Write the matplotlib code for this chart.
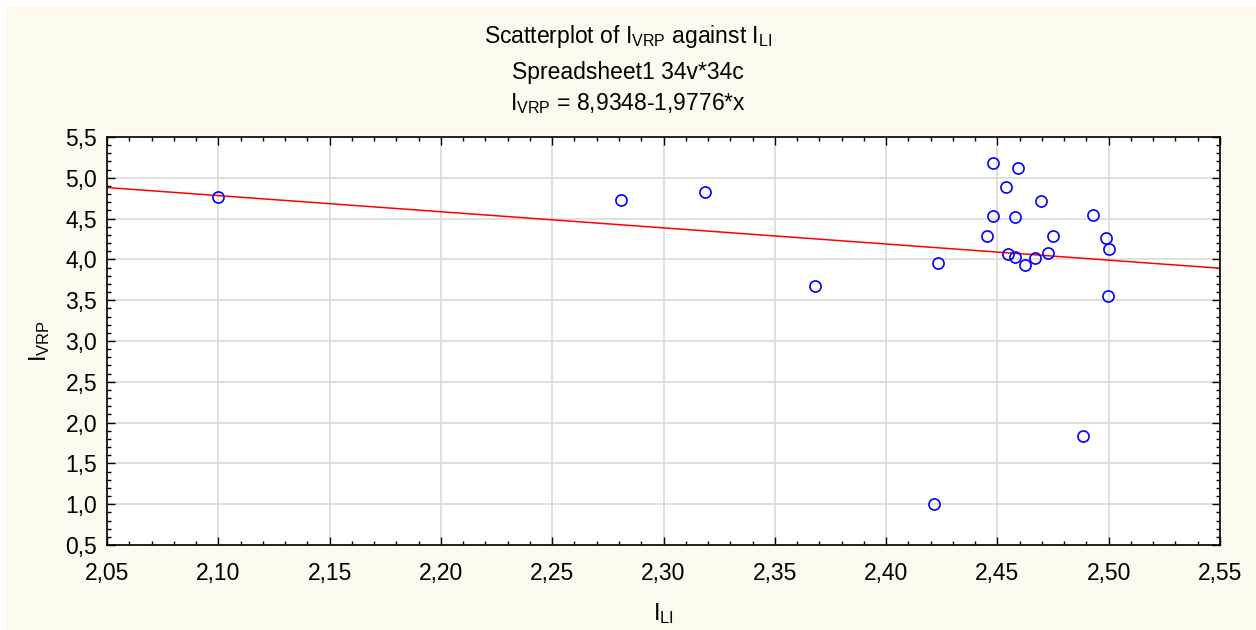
import numpy as np
import matplotlib
matplotlib.use("Agg")
import matplotlib.pyplot as plt
from matplotlib.ticker import MultipleLocator, FuncFormatter
from matplotlib.patches import Rectangle

## Fonts
plt.rcParams['font.family'] = ['Liberation Sans', 'DejaVu Sans']
plt.rcParams['mathtext.fontset'] = 'custom'
plt.rcParams['mathtext.rm'] = 'Liberation Sans'
plt.rcParams['mathtext.it'] = 'Liberation Sans'

## Data
i_li = [2.100, 2.281, 2.3186, 2.368, 2.4233, 2.4216, 2.4885, 2.4998,
        2.4479, 2.4593, 2.4539, 2.4696, 2.4479, 2.4579, 2.4928, 2.4452,
        2.4750, 2.4989, 2.5001, 2.4546, 2.4578, 2.4669, 2.4729, 2.4625]
i_vrp = [4.765, 4.728, 4.826, 3.674, 3.956, 1.002, 1.836, 3.552,
         5.185, 5.124, 4.891, 4.719, 4.532, 4.516, 4.548, 4.283,
         4.283, 4.266, 4.127, 4.066, 4.033, 4.017, 4.082, 3.928]

# regression line I_VRP = a + b*x
intercept = 8.9348
slope = -1.9776

x_lim = (2.05, 2.55)
y_lim = (0.5, 5.5)

## Figure
fig = plt.figure(figsize=(12.56, 6.3), dpi=100, facecolor="white")
fig.patches.append(Rectangle((5/1256, 0), 1, 1 - 6/630, transform=fig.transFigure,
                             facecolor="#fef9ee", edgecolor="none", zorder=-10))
ax = fig.add_axes([107/1256, 1 - 545/630, (1220-107)/1256, (545-137)/630])
ax.set_facecolor("white")

x_line = np.array(x_lim)
ax.plot(x_line, intercept + slope*x_line, color="red", lw=1.1, zorder=2)
ax.plot(i_li, i_vrp, "o", mfc="none", mec="blue", mew=1.2, ms=8, zorder=3)

ax.set_xlim(*x_lim); ax.set_ylim(*y_lim)
ax.xaxis.set_major_locator(MultipleLocator(0.05))
ax.xaxis.set_minor_locator(MultipleLocator(0.01))
ax.yaxis.set_major_locator(MultipleLocator(0.5))
ax.yaxis.set_minor_locator(MultipleLocator(0.1))
ax.xaxis.set_major_formatter(FuncFormatter(lambda v, p: f"{v:.2f}".replace(".", ",")))
ax.yaxis.set_major_formatter(FuncFormatter(lambda v, p: f"{v:.1f}".replace(".", ",")))
ax.tick_params(which="both", direction="in", top=True, right=True, labelsize=16.5, color="black")
ax.tick_params(which="major", length=6, width=1)
ax.tick_params(which="minor", length=3, width=1)
ax.tick_params(axis="x", pad=12)
ax.tick_params(axis="y", pad=7)
ax.grid(True, which="major", color="#d9d9d9", lw=1.2, zorder=0)
ax.set_axisbelow(True)
for s in ax.spines.values():
    s.set_linewidth(1.2)

ax.set_xlabel(r"I$_{\mathrm{LI}}$", fontsize=17, labelpad=12)
ax.set_ylabel(r"I$_{\mathrm{VRP}}$", fontsize=17, labelpad=10)

## Titles
fig.text(0.5, 1 - 37/630, r"Scatterplot of I$_{\mathrm{VRP}}$ against I$_{\mathrm{LI}}$",
         ha="center", va="center", fontsize=16.5)
fig.text(0.5, 1 - 72/630, "Spreadsheet1 34v*34c", ha="center", va="center", fontsize=16.5)
fig.text(0.5, 1 - 104/630, r"I$_{\mathrm{VRP}}$ = 8,9348-1,9776*x",
         ha="center", va="center", fontsize=16.5)

plt.savefig("out.png", dpi=100, facecolor=fig.get_facecolor())
